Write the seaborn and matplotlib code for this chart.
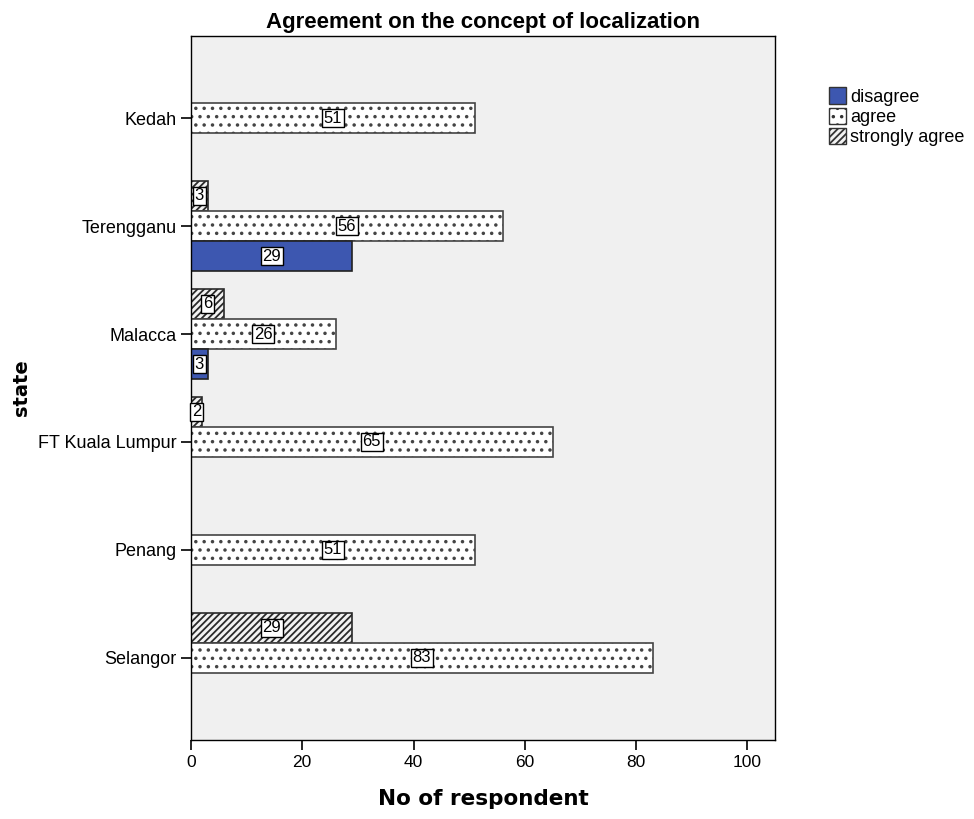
import matplotlib
matplotlib.use("Agg")
import matplotlib.pyplot as plt
from matplotlib.patches import Patch
import seaborn as sns
import pandas as pd

states = ["Kedah", "Terengganu", "Malacca", "FT Kuala Lumpur", "Penang", "Selangor"]
responses = ["strongly agree", "agree", "disagree"]
legend_order = ["disagree", "agree", "strongly agree"]

# counts per state (None = no respondents in that group)
strongly_agree = [None, 3, 6, 2, None, 29]
agree = [51, 56, 26, 65, 51, 83]
disagree = [None, 29, 3, None, None, None]

rows = []
for series, name in zip([strongly_agree, agree, disagree], responses):
    for st, v in zip(states, series):
        if v is not None:
            rows.append({"state": st, "response": name, "count": v})
df = pd.DataFrame(rows)

sns.set_style("white")
plt.rcParams["font.family"] = ["Liberation Sans", "DejaVu Sans"]
plt.rcParams["hatch.linewidth"] = 1.3
plt.rcParams["text.color"] = "black"
plt.rcParams["xtick.color"] = "black"
plt.rcParams["ytick.color"] = "black"
plt.rcParams["axes.labelcolor"] = "black"

colors = {"strongly agree": "#f2f2f2", "agree": "#ffffff", "disagree": "#3d57b0"}
hatches = {"strongly agree": "/////", "agree": "..", "disagree": ""}

fig = plt.figure(figsize=(9.74, 8.19), dpi=100)
ax = fig.add_axes([0.196, 0.0965, 0.6, 0.8595])
ax.set_facecolor("#f0f0f0")

sns.barplot(data=df, y="state", x="count", hue="response", order=states,
            hue_order=responses, palette=colors, saturation=1, orient="h",
            width=0.84, dodge=True, legend=False, ax=ax,
            edgecolor="#222222", linewidth=1.2)

# assign hatches by bar colour
col_to_name = {matplotlib.colors.to_hex(c): n for n, c in colors.items()}
for p in ax.patches:
    name = col_to_name.get(matplotlib.colors.to_hex(p.get_facecolor()))
    if name == "agree":
        p.set_hatch(hatches[name])
        p.set_edgecolor("#444444")
    elif name == "strongly agree":
        p.set_hatch(hatches[name])
        p.set_edgecolor("#2a2a2a")

# value labels in boxes at bar centres
for p in ax.patches:
    w = p.get_width()
    if w is None or w != w or w <= 0:
        continue
    y = p.get_y() + p.get_height() / 2
    ax.text(w / 2, y, f"{int(round(w))}", ha="center", va="center", fontsize=12,
            color="black",
            bbox=dict(boxstyle="square,pad=0.1", facecolor="white",
                      edgecolor="black", linewidth=1.0))

ax.set_xlim(0, 105)
ax.set_ylim(5.76, -0.76)
ax.set_xticks([0, 20, 40, 60, 80, 100])
ax.tick_params(axis="both", direction="out", length=7, width=1.2, color="black",
               bottom=True, left=True)
ax.tick_params(axis="x", labelsize=12.5)
ax.tick_params(axis="y", labelsize=13)
for s in ax.spines.values():
    s.set_visible(True)
    s.set_color("black")
    s.set_linewidth(1.0)

ax.set_title("Agreement on the concept of localization", fontsize=16,
             fontweight="bold", pad=6)
ax.set_xlabel("No of respondent", fontsize=15.5, fontweight="bold",
              family="DejaVu Sans", labelpad=14)
ax.set_ylabel("state", fontsize=14, fontweight="bold", family="DejaVu Sans",
              labelpad=5)

handles = [Patch(facecolor=colors[n], edgecolor="#333333", hatch=hatches[n])
           for n in legend_order]
fig.legend(handles, legend_order, loc="upper left", bbox_to_anchor=(0.844, 0.902),
           frameon=False, fontsize=13, handlelength=0.95, handleheight=1.0,
           handletextpad=0.2, labelspacing=0.1, borderaxespad=0)

fig.savefig("out.png", dpi=100, facecolor="white")
